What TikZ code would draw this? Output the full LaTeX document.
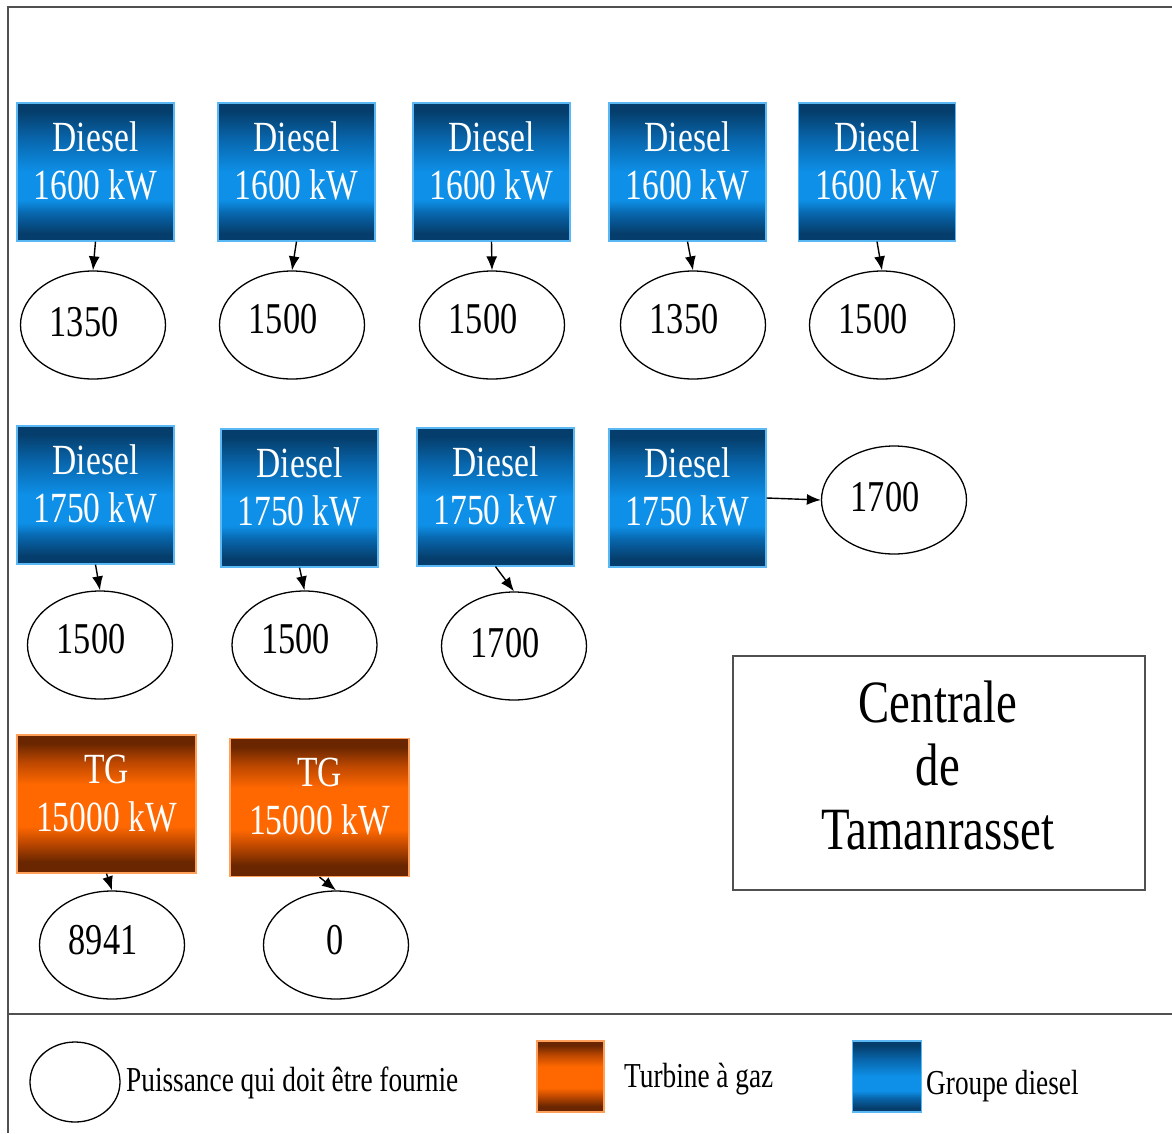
\documentclass[tikz,border=0pt]{standalone}
\usepackage{fontspec}
\setmainfont{Liberation Serif}
\newfontfamily\cond{Liberation Serif}[FakeStretch=0.78]
\usetikzlibrary{arrows.meta,shapes.geometric}

\definecolor{dkblue}{RGB}{5,62,108}
\definecolor{midblue}{RGB}{8,102,172}
\definecolor{brblue}{RGB}{14,144,232}
\definecolor{bdblue}{RGB}{90,185,245}
\definecolor{dkbrown}{RGB}{105,38,0}
\definecolor{midorange}{RGB}{190,72,0}
\definecolor{brorange}{RGB}{255,104,0}
\definecolor{bdorange}{RGB}{255,160,90}
\definecolor{framegray}{RGB}{80,80,80}

\pgfdeclareverticalshading{dieselshade}{100bp}{color(0bp)=(dkblue); color(25bp)=(dkblue); color(28bp)=(dkblue); color(35bp)=(midblue); color(40bp)=(brblue); color(50bp)=(brblue); color(62bp)=(midblue); color(72bp)=(dkblue); color(100bp)=(dkblue)}
\pgfdeclareverticalshading{tgshade}{100bp}{color(0bp)=(dkbrown); color(25bp)=(dkbrown); color(29bp)=(dkbrown); color(36bp)=(midorange); color(42bp)=(brorange); color(57bp)=(brorange); color(65bp)=(midorange); color(72bp)=(dkbrown); color(100bp)=(dkbrown)}

\tikzset{
  dbox/.style={rectangle, draw=bdblue, line width=1.2pt, shade, shading=dieselshade, minimum width=157pt, minimum height=138pt, inner sep=0pt},
  tbox/.style={rectangle, draw=bdorange, line width=1.2pt, shade, shading=tgshade, minimum width=179pt, minimum height=138pt, inner sep=0pt},
  btxt/.style={text=white, font=\cond\fontsize{43}{48}\selectfont, align=center, inner sep=0pt},
  val/.style={ellipse, draw=black, line width=1.3pt, minimum width=145pt, minimum height=108pt, inner sep=0pt},
  num/.style={font=\cond\fontsize{44}{48}\selectfont, inner sep=0pt},
  legtxt/.style={font=\cond\fontsize{35}{40}\selectfont, inner sep=0pt, anchor=base west},
  arr/.style={-{Latex[length=14pt,width=11pt]}, line width=1.4pt},
  frameline/.style={draw=framegray, line width=1.8pt}
}

\begin{document}
\begin{tikzpicture}[x=1pt,y=-1pt]
\useasboundingbox (0,0) rectangle (1172,1133);
\fill[white] (0,0) rectangle (1172,1133);

% frame
\draw[frameline] (8,1133) -- (8,7) -- (1172,7);
\draw[frameline] (8,1014) -- (1172,1014);

% row 1
\node[dbox] (d1) at (95.5,172) {};
\node[dbox] (d2) at (296.5,172) {};
\node[dbox] (d3) at (491.5,172) {};
\node[dbox] (d4) at (687.5,172) {};
\node[dbox] (d5) at (877,172) {};
\foreach \n in {d1,d2,d3,d4,d5}
  \node[btxt] (\n t) at ([yshift=10.7pt]\n.center) {Diesel\\1600 kW};

\node[val] (e1) at (93,325) {};
\node[val] (e2) at (292,325) {};
\node[val] (e3) at (492,325) {};
\node[val] (e4) at (693,325) {};
\node[val] (e5) at (882,325) {};
\node[num] (e1t) at ([xshift=-9pt,yshift=3pt]e1.center) {1350};
\node[num] (e2t) at ([xshift=-9pt,yshift=6pt]e2.center) {1500};
\node[num] (e3t) at ([xshift=-9pt,yshift=6pt]e3.center) {1500};
\node[num] (e4t) at ([xshift=-9pt,yshift=6pt]e4.center) {1350};
\node[num] (e5t) at ([xshift=-9pt,yshift=6pt]e5.center) {1500};

\draw[arr] (d1.south) -- (e1.north);
\draw[arr] (d2.south) -- (e2.north);
\draw[arr] (d3.south) -- (e3.north);
\draw[arr] (d4.south) -- (e4.north);
\draw[arr] (d5.south) -- (e5.north);

% row 2
\node[dbox] (d6) at (95.5,495) {};
\node[dbox] (d7) at (299.5,498) {};
\node[dbox] (d8) at (495.5,497) {};
\node[dbox] (d9) at (687.5,498) {};
\foreach \n in {d6,d7,d8,d9}
  \node[btxt] (\n t) at ([yshift=10.7pt]\n.center) {Diesel\\1750 kW};

\node[val] (e6) at (100,645) {};
\node[val] (e7) at (304.5,645) {};
\node[val] (e8) at (514,646) {};
\node[val] (e9) at (894,500) {};
\node[num] (e6t) at ([xshift=-9pt,yshift=6pt]e6.center) {1500};
\node[num] (e7t) at ([xshift=-9pt,yshift=6pt]e7.center) {1500};
\node[num] (e8t) at ([xshift=-9pt,yshift=3pt]e8.center) {1700};
\node[num] (e9t) at ([xshift=-9pt,yshift=3pt]e9.center) {1700};

\draw[arr] (d6.south) -- (e6.north);
\draw[arr] (d7.south) -- (e7.north);
\draw[arr] (d8.south) -- (e8.north);
\draw[arr] (d9.east) -- (e9.west);

% TG
\node[tbox] (t1) at (106.5,804) {};
\node[tbox] (t2) at (319.5,807.5) {};
\foreach \n in {t1,t2}
  \node[btxt] (\n t) at ([yshift=10.7pt]\n.center) {TG\\15000 kW};

\node[val] (e10) at (112,945) {};
\node[val] (e11) at (336,945) {};
\node[num] (e10t) at ([xshift=-9pt,yshift=5pt]e10.center) {8941};
\node[num] (e11t) at ([xshift=-1pt,yshift=5pt]e11.center) {0};

\draw[arr] (t1.south) -- (e10.north);
\draw[arr] (t2.south) -- (e11.north);

% title box
\node[draw=framegray, line width=1.5pt, minimum width=412pt, minimum height=234pt, inner sep=0pt] (cent) at (939,773) {};
\node[font=\cond\fontsize{60}{63.5}\selectfont, align=center, inner sep=0pt] (centt) at (938,765) {Centrale\\de\\Tamanrasset};

% legend
\node[val, minimum width=90pt, minimum height=80pt] (lgE) at (75,1082) {};
\node[legtxt] (lgEt) at (126,1091) {Puissance qui doit être fournie};
\node[tbox, minimum width=67pt, minimum height=71pt] (lgT) at (570.5,1076.5) {};
\node[legtxt] (lgTt) at (624,1087) {Turbine à gaz};
\node[dbox, minimum width=69pt, minimum height=71pt] (lgD) at (887,1076.5) {};
\node[legtxt] (lgDt) at (926,1094) {Groupe diesel};
\end{tikzpicture}
\end{document}
